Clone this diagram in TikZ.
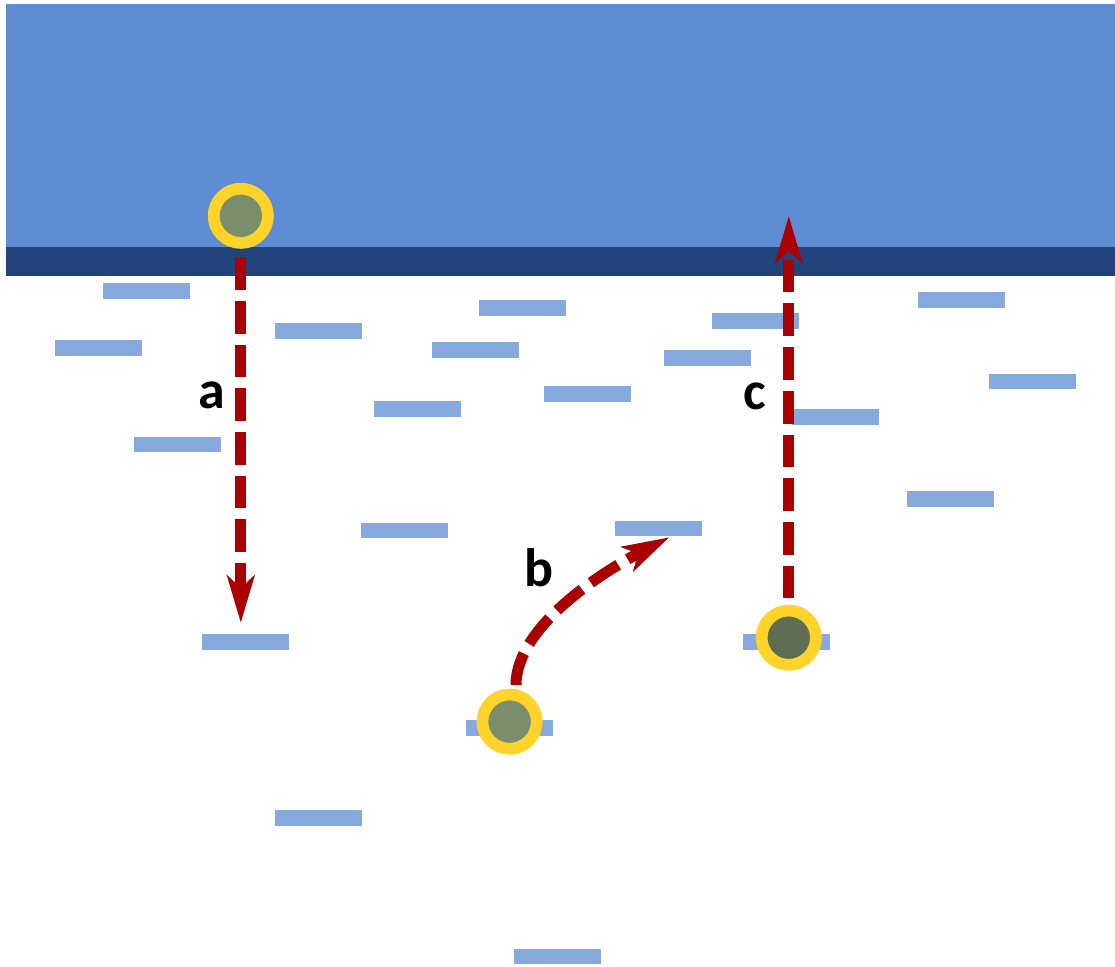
\documentclass[tikz,border=0pt]{standalone}
\usepackage{fontspec}
\setmainfont{Carlito}
\usetikzlibrary{arrows.meta}
\definecolor{topblue}{RGB}{95,141,211}
\definecolor{bandblue}{RGB}{33,69,122}
\definecolor{barblue}{RGB}{135,170,222}
\definecolor{pred}{RGB}{170,0,0}
\definecolor{pyellow}{RGB}{255,211,42}
\definecolor{pgreen}{RGB}{122,142,108}
\definecolor{pdark}{RGB}{95,110,83}
\begin{document}
\begin{tikzpicture}[x=1pt,y=-1pt,
  bar/.style={fill=barblue, minimum width=87pt, minimum height=15.5pt, inner sep=0pt, outer sep=0pt},
  particle/.style={circle, draw=pyellow, line width=11.7pt, minimum size=54.3pt, inner sep=0pt, fill=pgreen},
  moveline/.style={draw=pred, line width=11pt, dash pattern=on 32.7pt off 11pt,
    -{Stealth[length=47pt,width=27pt,inset=12pt]}},
  lbl/.style={font=\bfseries\fontsize{54}{60}\selectfont, anchor=base, inner sep=0pt, text=black}]
\useasboundingbox (0,0) rectangle (1115,966);
\fill[white] (0,0) rectangle (1115,966);
% surface block
\fill[topblue] (6,4) rectangle (1115,247);
\fill[bandblue] (6,247) rectangle (1115,276);
% bars
\node[bar] (b1) at (146,291) {};
\node[bar] (b2) at (98,348) {};
\node[bar] (b3) at (318.5,331) {};
\node[bar] (b4) at (522,308) {};
\node[bar] (b5) at (475.5,350) {};
\node[bar] (b6) at (417,409) {};
\node[bar] (b7) at (587,394) {};
\node[bar] (b8) at (755,321) {};
\node[bar] (b9) at (707,358) {};
\node[bar] (b10) at (961,300) {};
\node[bar] (b11) at (1032,381.5) {};
\node[bar] (b12) at (835,417) {};
\node[bar] (b13) at (177.5,444.5) {};
\node[bar] (b14) at (404.5,530.5) {};
\node[bar] (b15) at (658.5,528.5) {};
\node[bar] (b16) at (950.5,499) {};
\node[bar] (b17) at (245,642) {};
\node[bar] (b18) at (786.7,642) {};
\node[bar] (b19) at (509.7,728) {};
\node[bar] (b20) at (318.7,818) {};
\node[bar] (b21) at (557.8,956.5) {};
% particles
\node[particle] (pa) at (240.8,215.8) {};
\node[particle] (pb) at (509.6,721.6) {};
\node[particle, fill=pdark] (pc) at (788.8,637.7) {};
% connectors
\coordinate (bs) at (516,685);
\coordinate (bt) at (669.3,537.3);
\draw[moveline, shorten <=8.3pt, shorten >=11.3pt] (pa.south) -- (pa.south |- b17.north);
\draw[moveline, shorten <=6.4pt] (pc.north) -- (pc.north |- pa.center);
\draw[moveline] (bs) .. controls +(0,-60) and +(-62,32) .. (bt);
% labels
\node[lbl] (la) at (212,408) {a};
\node[lbl] (lb) at (539,586) {b};
\node[lbl] (lc) at (754.5,409) {c};
\end{tikzpicture}
\end{document}
